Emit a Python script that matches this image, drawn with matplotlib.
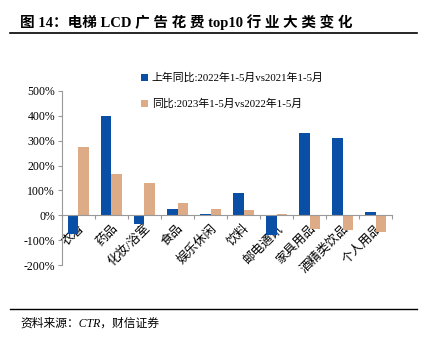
import matplotlib
matplotlib.use("Agg")
import matplotlib.pyplot as plt
import numpy as np
from matplotlib.ticker import FixedLocator, FuncFormatter

plt.rcParams['font.family'] = ['Liberation Serif', 'Noto Sans CJK SC', 'DejaVu Sans']

categories = ['衣着', '药品', '化妆/浴室', '食品', '娱乐休闲', '饮料', '邮电通讯', '家具用品', '酒精类饮品', '个人用品']
series1_name = '上年同比:2022年1-5月vs2021年1-5月'
series2_name = '同比:2023年1-5月vs2022年1-5月'
series1 = [-76, 400, -36, 25, 6, 88, -80, 332, 312, 12]
series2 = [276, 165, 130, 49, 25, 20, 5, -56, -60, -66]
yticks = [-200, -100, 0, 100, 200, 300, 400, 500]

blue = '#0A4FA6'
orange = '#DDAC86'

fig = plt.figure(figsize=(4.30, 3.42), dpi=100)
ax = fig.add_axes([0.144, 0.225, 0.768, 0.509])

x = np.arange(len(categories))
w = 0.32
ax.bar(x - w/2, series1, width=w, color=blue, label=series1_name, zorder=2)
ax.bar(x + w/2, series2, width=w, color=orange, label=series2_name, zorder=2)

ax.set_xlim(-0.5, len(categories) - 0.5)
ax.set_ylim(-200, 500)
ax.set_yticks(yticks)
ax.yaxis.set_major_formatter(FuncFormatter(lambda v, p: f'{int(v)}%'))
ax.tick_params(axis='y', labelsize=8.5, length=3, color='#999999', width=0.8, pad=2)

for s in ['top', 'right']:
    ax.spines[s].set_visible(False)
ax.spines['left'].set_color('#999999')
ax.spines['bottom'].set_color('#999999')
ax.spines['bottom'].set_position(('data', 0))
ax.spines['bottom'].set_zorder(3)

ax.set_xticks(x)
ax.set_xticklabels(categories, rotation=45, ha='right', va='top', rotation_mode='anchor', fontsize=9)
ax.tick_params(axis='x', length=0, pad=5)
ax.xaxis.set_minor_locator(FixedLocator(np.arange(-0.5, len(categories), 1.0)))
ax.tick_params(axis='x', which='minor', length=3, color='#999999', width=0.8, direction='out')
for lbl in ax.get_xticklabels():
    lbl.set_zorder(5)

h, l = ax.get_legend_handles_labels()
fig.legend([h[0]], [l[0]], loc='center left', bbox_to_anchor=(0.315, 0.772), frameon=False,
           fontsize=7.8, handlelength=0.7, handleheight=0.7, handletextpad=0.3, borderpad=0)
fig.legend([h[1]], [l[1]], loc='center left', bbox_to_anchor=(0.315, 0.696), frameon=False,
           fontsize=7.8, handlelength=0.7, handleheight=0.7, handletextpad=0.3, borderpad=0)

fig.text(0.047, 0.935, '图 14：电梯 LCD 广 告 花 费 top10 行 业 大 类 变 化', fontsize=10.5, fontweight='bold',
         ha='left', va='center')
fig.add_artist(plt.Line2D([0.023, 0.97], [0.903, 0.903], color='black', lw=1.2, transform=fig.transFigure))
fig.add_artist(plt.Line2D([0.023, 0.97], [0.097, 0.097], color='black', lw=1.0, transform=fig.transFigure))
fig.text(0.047, 0.055, '资料来源：CTR，财信证券', fontsize=8.5, style='italic', ha='left', va='center')

fig.savefig('out.png', dpi=100)
